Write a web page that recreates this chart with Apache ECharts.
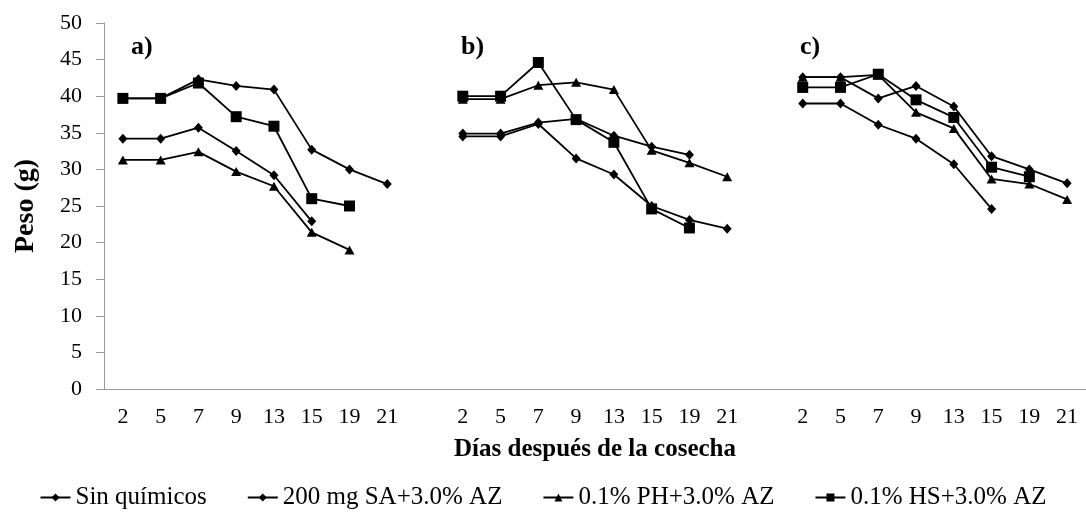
<!DOCTYPE html>
<html>
<head>
<meta charset="utf-8">
<script src="https://cdn.jsdelivr.net/npm/echarts@6/dist/echarts.min.js"></script>
<style>
  html, body { margin: 0; padding: 0; background: #fff; }
  #chart { width: 1086px; height: 515px; }
</style>
</head>
<body>
<div id="chart"></div>
<script>
// days after harvest, one block per panel (a, b, c)
const days = ['2', '5', '7', '9', '13', '15', '19', '21'];
const panelNames = ['a)', 'b)', 'c)'];
const yTicks = [0, 5, 10, 15, 20, 25, 30, 35, 40, 45, 50];

// weight (g) per panel: [a, b, c]
const sinQuimicos = [
  [34.2, 34.2, 35.7, 32.5, 29.2, 22.9, null, null],
  [34.5, 34.5, 36.2, 31.5, 29.3, 25.0, 23.1, 21.9],
  [39.0, 39.0, 36.1, 34.2, 30.7, 24.6, null, null]
];
const sa200 = [
  [39.7, 39.7, 42.3, 41.4, 40.9, 32.7, 30.0, 28.0],
  [34.9, 34.9, 36.4, 36.9, 34.6, 33.1, 32.0, null],
  [42.6, 42.6, 39.7, 41.4, 38.6, 31.8, 30.0, 28.1]
];
const ph01 = [
  [31.3, 31.3, 32.4, 29.7, 27.7, 21.4, 19.0, null],
  [39.6, 39.6, 41.5, 41.9, 40.9, 32.6, 30.9, 29.0],
  [42.6, 42.6, 42.9, 37.8, 35.6, 28.7, 28.0, 25.9]
];
const hs01 = [
  [39.7, 39.7, 41.8, 37.2, 35.9, 26.0, 25.0, null],
  [40.0, 40.0, 44.6, 36.8, 33.7, 24.6, 22.0, null],
  [41.2, 41.2, 43.0, 39.5, 37.1, 30.3, 29.0, null]
];

const font = "'Liberation Serif', 'Times New Roman', serif";

// one category axis, one empty slot between panels
const categories = [].concat(days, [''], days, [''], days);
const joinPanels = p => [].concat(p[0], [null], p[1], [null], p[2]);

const seriesDefs = [
  { name: 'Sin químicos', data: sinQuimicos, symbol: 'diamond', size: [9, 10] },
  { name: '200 mg SA+3.0% AZ', data: sa200, symbol: 'diamond', size: [9, 10] },
  { name: '0.1% PH+3.0% AZ', data: ph01, symbol: 'triangle', size: [10, 9] },
  { name: '0.1% HS+3.0% AZ', data: hs01, symbol: 'rect', size: 11 }
];

const chart = echarts.init(document.getElementById('chart'), null, { renderer: 'canvas' });

const option = {
  animation: false,
  textStyle: { fontFamily: font, color: '#000' },
  grid: { left: 104, right: -2, top: 23, bottom: 126, containLabel: false },
  legend: {
    bottom: 0,
    left: 'center',
    itemWidth: 30,
    itemHeight: 10,
    itemGap: 40,
    textStyle: { fontFamily: font, fontSize: 25, fontWeight: 'normal', color: '#000' },
    data: seriesDefs.map(s => s.name)
  },
  xAxis: {
    type: 'category',
    data: categories,
    boundaryGap: true,
    name: 'Días después de la cosecha',
    nameLocation: 'middle',
    nameGap: 48,
    nameTextStyle: { fontFamily: font, fontSize: 25, fontWeight: 'bold', color: '#000' },
    axisLine: { lineStyle: { color: '#999', width: 1 } },
    axisTick: { show: false },
    axisLabel: { interval: 0, fontFamily: font, fontSize: 22, color: '#000', margin: 17 }
  },
  yAxis: {
    type: 'value',
    min: 0,
    max: 50,
    interval: 5,
    name: 'Peso (g)',
    nameLocation: 'middle',
    nameGap: 64,
    nameTextStyle: { fontFamily: font, fontSize: 28, fontWeight: 'bold', color: '#000' },
    axisLine: { show: true, lineStyle: { color: '#999', width: 1 } },
    axisTick: { show: true, length: 8, lineStyle: { color: '#999' } },
    splitLine: { show: false },
    axisLabel: {
      fontFamily: font, fontSize: 22, color: '#000', margin: 22,
      formatter: v => (yTicks.indexOf(v) >= 0 ? String(v) : '')
    }
  },
  graphic: panelNames.map((t, i) => ({
    type: 'text',
    left: [131, 461, 800][i],
    top: 34,
    style: { text: t, fontFamily: font, fontSize: 26, fontWeight: 'bold', fill: '#000' }
  })),
  series: seriesDefs.map(s => ({
    name: s.name,
    type: 'line',
    data: joinPanels(s.data),
    connectNulls: false,
    symbol: s.symbol,
    symbolSize: s.size,
    showAllSymbol: true,
    itemStyle: { color: '#000' },
    lineStyle: { color: '#000', width: 1.8 }
  }))
};

chart.setOption(option);
</script>
</body>
</html>
